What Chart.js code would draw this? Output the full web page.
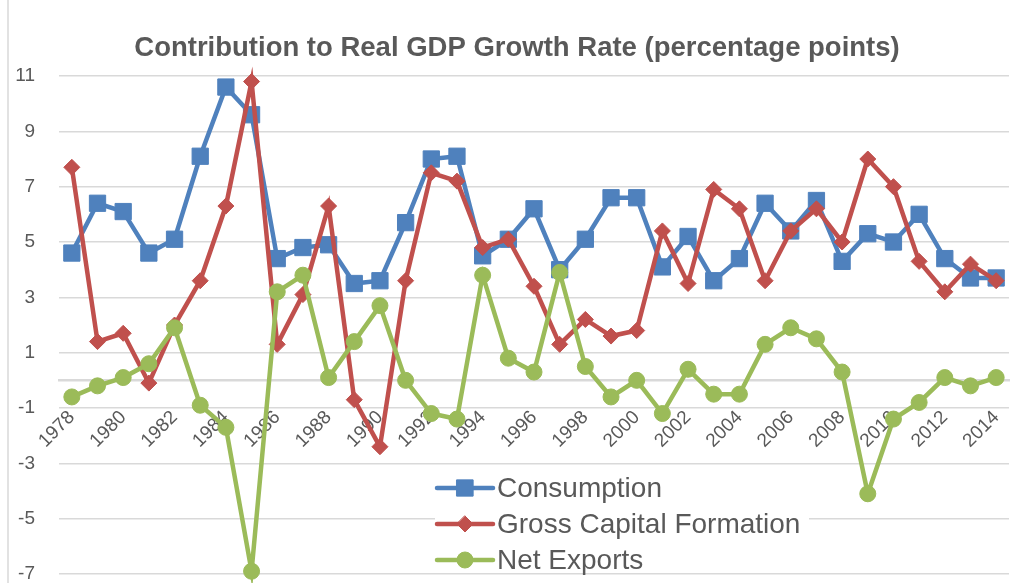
<!DOCTYPE html>
<html>
<head>
<meta charset="utf-8">
<title>Contribution to Real GDP Growth Rate</title>
<script src="https://cdn.jsdelivr.net/npm/chart.js@4.4.1/dist/chart.umd.min.js"></script>
<style>
	html, body { margin:0; padding:0; background:#fff; }
	#wrap { width:1021px; height:583px; }
</style>
</head>
<body>
<div id="wrap"><canvas id="line-chart-gdp" width="1021" height="583"></canvas></div>
<script>
// data (percentage points)
var years = ['1978','1979','1980','1981','1982','1983','1984','1985','1986','1987',
	'1988','1989','1990','1991','1992','1993','1994','1995','1996','1997',
	'1998','1999','2000','2001','2002','2003','2004','2005','2006','2007',
	'2008','2009','2010','2011','2012','2013','2014'];

var consumption = [4.6,6.4,6.1,4.6,5.1,8.1,10.6,9.6,4.4,4.8,
	4.9,3.5,3.6,5.7,8.0,8.1,4.5,5.1,6.2,4.0,
	5.1,6.6,6.6,4.1,5.2,3.6,4.4,6.4,5.4,6.5,
	4.3,5.3,5.0,6.0,4.4,3.7,3.7];

var capitalFormation = [7.7,1.4,1.7,-0.1,2.0,3.6,6.3,10.8,1.3,3.1,
	6.3,-0.7,-2.4,3.6,7.5,7.2,4.8,5.1,3.4,1.3,
	2.2,1.6,1.8,5.4,3.5,6.9,6.2,3.6,5.4,6.2,
	5.0,8.0,7.0,4.3,3.2,4.2,3.6];

var netExports = [-0.6,-0.2,0.1,0.6,1.9,-0.9,-1.7,-6.9,3.2,3.8,
	0.1,1.4,2.7,0.0,-1.2,-1.4,3.8,0.8,0.3,3.9,
	0.5,-0.6,0.0,-1.2,0.4,-0.5,-0.5,1.3,1.9,1.5,
	0.3,-4.1,-1.4,-0.8,0.1,-0.2,0.1];

var yTicks = [-7,-5,-3,-1,1,3,5,7,9,11];

var chartTitle = 'Contribution to Real GDP Growth Rate (percentage points)';

/* 엑셀 기본 색상 */
var blue = '#4F81BD';
var red = '#C0504D';
var green = '#9BBB59';
var textGray = '#595959';
var gridGray = '#D9D9D9';
var fontName = "'Liberation Sans', Arial, sans-serif";

function seriesStyle(color, style, radius) {
	return {
		borderColor: color,
		backgroundColor: color,
		pointBackgroundColor: color,
		pointBorderColor: color,
		pointBorderWidth: 1,
		pointStyle: style,
		pointRadius: radius,
		pointHoverRadius: radius,
		borderWidth: 4.5,
		lineTension: 0,
		clip: false,
		fill: false
	};
}

function markerPath(ctx, style, x, y, r) {
	ctx.beginPath();
	if (style == 'rect') {
		var s = r * Math.SQRT1_2;
		ctx.rect(x - s, y - s, 2 * s, 2 * s);
	} else if (style == 'rectRot') {
		ctx.moveTo(x, y - r);
		ctx.lineTo(x + r, y);
		ctx.lineTo(x, y + r);
		ctx.lineTo(x - r, y);
		ctx.closePath();
	} else {
		ctx.arc(x, y, r, 0, Math.PI * 2);
	}
}

// legend sits inside the plot, like the excel one
var insideLegend = {
	id: 'insideLegend',
	afterDatasetsDraw: function(chart) {
		var ctx = chart.ctx;
		var area = chart.chartArea;
		var boxLeft = area.left + 376;
		var boxTop = area.bottom - 104;
		var rowY = area.bottom - 86;
		var rowGap = 36;

		ctx.save();
		ctx.fillStyle = '#fff';
		ctx.fillRect(boxLeft, boxTop, 374, 100);

		chart.data.datasets.forEach(function(ds, i) {
			var y = rowY + i * rowGap;
			var x0 = boxLeft + 2, x1 = boxLeft + 58;
			ctx.strokeStyle = ds.borderColor;
			ctx.lineWidth = 4.5;
			ctx.lineCap = 'round';
			ctx.beginPath();
			ctx.moveTo(x0, y);
			ctx.lineTo(x1, y);
			ctx.stroke();

			ctx.fillStyle = ds.borderColor;
			ctx.lineWidth = 1;
			markerPath(ctx, ds.pointStyle, (x0 + x1) / 2, y, ds.pointRadius);
			ctx.fill();
			ctx.stroke();

			ctx.fillStyle = textGray;
			ctx.font = '28px ' + fontName;
			ctx.textAlign = 'left';
			ctx.textBaseline = 'middle';
			ctx.fillText(ds.label, x1 + 4, y + 1);
		});
		ctx.restore();
	}
};

// white page, thin chart frame on the left, and the title
// (excel centres the title a bit right of the canvas middle)
var chartFrame = {
	id: 'chartFrame',
	beforeDraw: function(chart) {
		var ctx = chart.ctx;
		ctx.save();
		ctx.fillStyle = '#fff';
		ctx.fillRect(0, 0, chart.width, chart.height);
		ctx.strokeStyle = gridGray;
		ctx.lineWidth = 1.5;
		ctx.beginPath();
		ctx.moveTo(8, 0);
		ctx.lineTo(8, chart.height);
		ctx.stroke();
		ctx.restore();
	},
	afterDraw: function(chart) {
		var ctx = chart.ctx;
		var area = chart.chartArea;
		ctx.save();
		ctx.fillStyle = textGray;
		ctx.font = 'bold 27.5px ' + fontName;
		ctx.textAlign = 'center';
		ctx.textBaseline = 'middle';
		ctx.fillText(chartTitle, 517, area.top - 28);
		ctx.restore();
	}
};

var consumptionSet = seriesStyle(blue, 'rect', 11.5);
consumptionSet.label = 'Consumption';
consumptionSet.data = consumption;
consumptionSet.order = 3;

var capitalSet = seriesStyle(red, 'rectRot', 8);
capitalSet.label = 'Gross Capital Formation';
capitalSet.data = capitalFormation;
capitalSet.order = 2;

var exportsSet = seriesStyle(green, 'circle', 8);
exportsSet.label = 'Net Exports';
exportsSet.data = netExports;
exportsSet.order = 1;

new Chart(document.getElementById('line-chart-gdp'), {
	type: 'line',
	data: {
		labels: years,
		datasets: [consumptionSet, capitalSet, exportsSet]
	},
	options: {
		responsive: false,
		animation: false,
		layout: {
			autoPadding: false,
			padding: { left: 0, right: 12, top: 76, bottom: 0 }
		},
		plugins: {
			legend: { display: false },
			tooltip: { enabled: false },
			title: { display: false }
		},
		scales: {
			x: {
				type: 'category',
				offset: true,
				position: { y: 0 },
				// axis crosses at zero, so it must not eat space under or beside the plot
				afterFit: function(scale) {
					scale.height = 0;
					scale.paddingLeft = 0;
					scale.paddingRight = 0;
				},
				grid: { display: false, drawTicks: false },
				border: { display: true, color: gridGray, width: 2.5 },
				ticks: {
					autoSkip: false,
					minRotation: 45,
					maxRotation: 45,
					padding: 26,
					color: textGray,
					font: { family: fontName, size: 19 },
					callback: function(val, i) {
						return i % 2 == 0 ? years[i] : '';
					}
				}
			},
			y: {
				min: -7,
				max: 11,
				afterBuildTicks: function(scale) {
					scale.ticks = yTicks.map(function(v) { return { value: v }; });
				},
				afterFit: function(scale) {
					scale.width = 59;
					scale.paddingTop = 9;
					scale.paddingBottom = 9;
				},
				// invisible tick marks give the gap between labels and plot
				grid: {
					color: gridGray,
					lineWidth: 1.5,
					drawTicks: true,
					tickLength: 24,
					tickColor: 'rgba(0,0,0,0)'
				},
				border: { display: false },
				ticks: {
					padding: 0,
					color: textGray,
					font: { family: fontName, size: 19, lineHeight: 1 }
				}
			}
		}
	},
	plugins: [chartFrame, insideLegend]
});
</script>
</body>
</html>
